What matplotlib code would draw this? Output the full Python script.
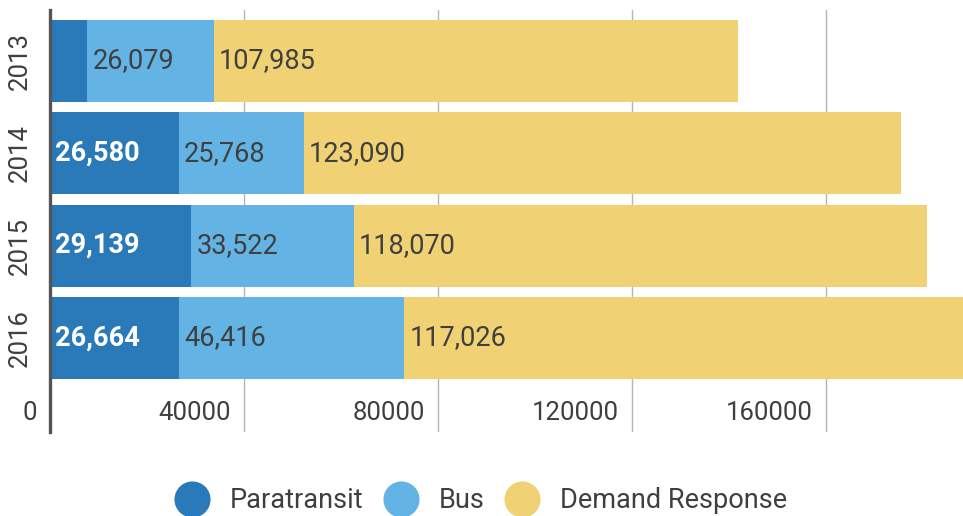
import matplotlib
matplotlib.use("Agg")
import matplotlib.pyplot as plt
from matplotlib.lines import Line2D
from matplotlib.transforms import offset_copy

# Ridership by service type
years = ["2013", "2014", "2015", "2016"]
paratransit = [7700, 26580, 29139, 26664]
bus = [26079, 25768, 33522, 46416]
demand_response = [107985, 123090, 118070, 117026]
series_names = ["Paratransit", "Bus", "Demand Response"]
x_ticks = [0, 40000, 80000, 120000, 160000]

colors = ["#2a79b8", "#63b4e4", "#f0d275"]
text_dark = "#3f3f3f"
plt.rcParams["font.family"] = ["Roboto", "DejaVu Sans"]
FS = 18.5
LABEL_FS = 19.5

fig = plt.figure(figsize=(9.63, 5.16), dpi=100)
W, H = 963, 516
ax = fig.add_axes([50 / W, 1 - 432 / H, 1 - 50 / W, (432 - 10) / H])

ypos = list(range(len(years)))
series = [paratransit, bus, demand_response]
lefts = [0] * len(years)
for vals, col, name in zip(series, colors, series_names):
    ax.barh(ypos, vals, left=lefts, height=0.89, color=col, zorder=2, label=name)
    for i, (v, l) in enumerate(zip(vals, lefts)):
        if v < 15000:
            continue
        is_dark = col == colors[0]
        tr = offset_copy(ax.transData, fig=fig, x=5, y=0, units="dots")
        ax.text(l, i, f"{v:,}", transform=tr, ha="left", va="center",
                fontsize=LABEL_FS, color="white" if is_dark else text_dark,
                fontweight="bold" if is_dark else "normal", zorder=3)
    lefts = [a + b for a, b in zip(lefts, vals)]

ax.set_xlim(0, (W - 50) / 194 * 40000)
ax.set_ylim(4.02, -0.553)

ax.set_xticks(x_ticks)
ax.tick_params(axis="x", length=0, labelbottom=False)
ax.xaxis.grid(True, color="#b5b5b5", linewidth=1.0, zorder=0)
ax.set_axisbelow(True)

ax.set_yticks(ypos)
ax.set_yticklabels(years, rotation=90, va="center", fontsize=FS, color=text_dark)
ax.tick_params(axis="y", length=0, pad=13)

for s in ["top", "right", "bottom"]:
    ax.spines[s].set_visible(False)
ax.spines["left"].set_color("#555555")
ax.spines["left"].set_linewidth(2.4)

# x tick labels sit inside the plot area, right-aligned to each gridline
tick_tr = offset_copy(ax.transData, fig=fig, x=-13, y=0, units="dots")
for t in x_ticks:
    ax.text(t, 3.81, str(t), transform=tick_tr, ha="right", va="center",
            fontsize=FS, color=text_dark, clip_on=False)

handles = [Line2D([], [], linestyle="none", marker="o", markersize=25,
                  markerfacecolor=c, markeredgecolor=c) for c in colors]
fig.legend(handles, series_names, loc="center", bbox_to_anchor=(0.5, 1 - 501 / H),
           ncol=3, frameon=False, fontsize=19.5, labelcolor=text_dark,
           handletextpad=0.78, columnspacing=0.8, handlelength=1.2)

fig.savefig("out.png", dpi=100)
